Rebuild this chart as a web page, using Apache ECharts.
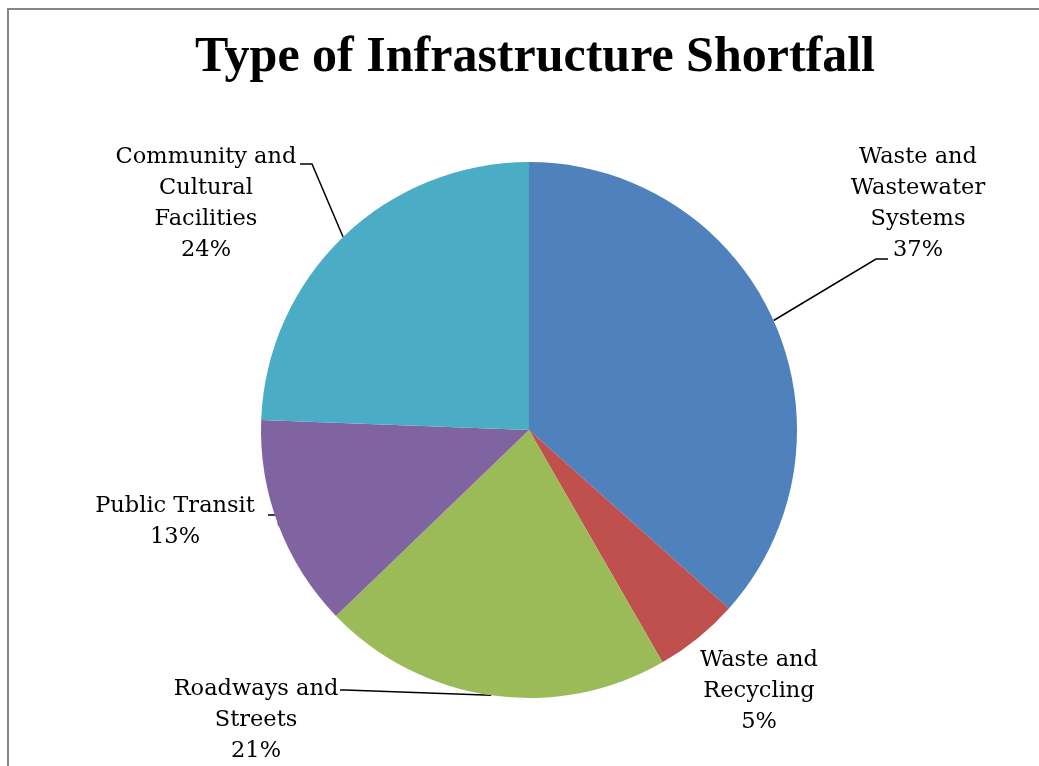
<!DOCTYPE html>
<html>
<head>
<meta charset="utf-8">
<script src="https://cdn.jsdelivr.net/npm/echarts@6/dist/echarts.min.js"></script>
<style>
html,body{margin:0;padding:0;background:#fff;}
#chart{width:1039px;height:766px;}
</style>
</head>
<body>
<div id="chart"></div>
<script>
// ---- data ----
var titleText = 'Type of Infrastructure Shortfall';
var categories = [
  'Waste and\nWastewater\nSystems',
  'Waste and\nRecycling',
  'Roadways and\nStreets',
  'Public Transit',
  'Community and\nCultural\nFacilities'
];
var values = [36.6, 5.1, 21.1, 12.8, 24.4];
var colors = ['#4F81BD', '#C0504D', '#9BBB59', '#8064A2', '#4BACC6'];

// ---- label placement (styling) ----
var labelPos = [
  {x: 918, y: 204, line: [[876, 259], [888, 259]]},
  {x: 759, y: 691, line: null},
  {x: 256, y: 720, line: [[345, 690], [340, 690]]},
  {x: 175, y: 522, line: [[278, 515], [268, 515]]},
  {x: 206, y: 204, line: [[312, 164], [300, 164]]}
];

var chart = echarts.init(document.getElementById('chart'));
var FONT = 'DejaVu Serif';

var dataItems = categories.map(function (c, i) {
  var item = {name: c, value: values[i], itemStyle: {color: colors[i]}};
  if (!labelPos[i].line) item.labelLine = {show: false};
  return item;
});

chart.setOption({
  backgroundColor: '#fff',
  animation: false,
  title: {
    text: titleText,
    left: 530,
    textAlign: 'center',
    top: 28,
    textStyle: {fontFamily: 'Liberation Serif', fontWeight: 'bold', fontSize: 50, color: '#000'}
  },
  graphic: [{
    type: 'rect',
    shape: {x: 8, y: 9, width: 1200, height: 900},
    style: {fill: 'none', stroke: '#868686', lineWidth: 2},
    silent: true
  }],
  series: [{
    type: 'pie',
    center: [529, 430],
    radius: 268,
    startAngle: 90,
    clockwise: true,
    data: dataItems,
    label: {
      show: true,
      formatter: function (p) { return p.name + '\n' + Math.round(p.percent) + '%'; },
      fontFamily: FONT,
      fontSize: 22.5,
      lineHeight: 31,
      color: '#000',
      align: 'center'
    },
    labelLine: {show: true, lineStyle: {color: '#000', width: 1.5}},
    labelLayout: function (params) {
      var p = labelPos[params.dataIndex];
      var res = {x: p.x, y: p.y, align: 'center', verticalAlign: 'middle'};
      if (p.line && params.labelLinePoints) {
        res.labelLinePoints = [params.labelLinePoints[0], p.line[0], p.line[1]];
      }
      return res;
    }
  }]
});
</script>
</body>
</html>
